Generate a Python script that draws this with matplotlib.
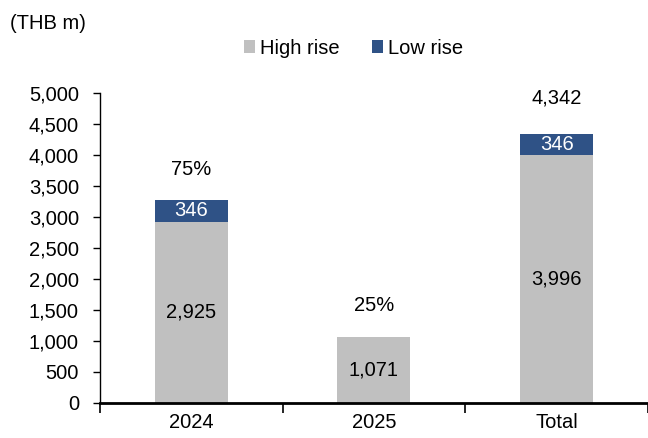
import matplotlib
matplotlib.use('Agg')
import matplotlib.pyplot as plt
import numpy as np

plt.rcParams['font.family'] = ['Liberation Sans', 'DejaVu Sans']

categories = ["2024", "2025", "Total"]
high_rise = [2925, 1071, 3996]
low_rise = [346, 0, 346]
share_labels = ["75%", "25%", ""]
total_labels = ["", "", "4,342"]

GREY = '#C0C0C0'
BLUE = '#2F5286'
FS = 14.5

fig = plt.figure(figsize=(6.48, 4.38), dpi=100)
ax = fig.add_axes([0.154, 0.0800, 0.846, 0.708])

x = np.arange(len(categories))
w = 0.4
ax.bar(x, high_rise, w, color=GREY, label='High rise')
ax.bar(x, low_rise, w, bottom=high_rise, color=BLUE, label='Low rise')

for i in range(len(categories)):
    ax.text(x[i], high_rise[i] / 2, f"{high_rise[i]:,}", ha='center', va='center', fontsize=FS)
    if low_rise[i]:
        ax.text(x[i], high_rise[i] + low_rise[i] / 2, f"{low_rise[i]:,}", ha='center', va='center',
                fontsize=FS, color='white')
    top = high_rise[i] + low_rise[i]
    if share_labels[i]:
        ax.text(x[i], top + 500, share_labels[i], ha='center', va='center', fontsize=FS)
    if total_labels[i]:
        ax.text(x[i], top + 580, total_labels[i], ha='center', va='center', fontsize=FS)

ax.set_xlim(-0.5, 2.5)
ax.set_ylim(0, 5000)
ax.set_yticks(np.arange(0, 5001, 500))
ax.set_yticklabels([f"{v:,}" for v in range(0, 5001, 500)])
ax.set_xticks(x)
ax.set_xticklabels(categories)
ax.set_xticks([-0.5, 0.5, 1.5, 2.5], minor=True)
ax.tick_params(axis='x', which='major', length=0, pad=7)
ax.tick_params(axis='x', which='minor', length=7, width=1.2, direction='out')
ax.tick_params(axis='y', length=5, width=1.0, direction='out', pad=10)
ax.tick_params(labelsize=FS)
ax.spines['top'].set_visible(False)
ax.spines['right'].set_visible(False)
ax.spines['bottom'].set_linewidth(2.0)
ax.spines['left'].set_linewidth(1.0)

fig.text(0.015, 0.947, "(THB m)", fontsize=FS, va='center')
fig.legend(loc='center', bbox_to_anchor=(0.545, 0.89), ncol=2, frameon=False, fontsize=FS,
           handlelength=0.55, handleheight=0.55, handletextpad=0.25, columnspacing=1.6)

plt.savefig('out.png', dpi=100)
